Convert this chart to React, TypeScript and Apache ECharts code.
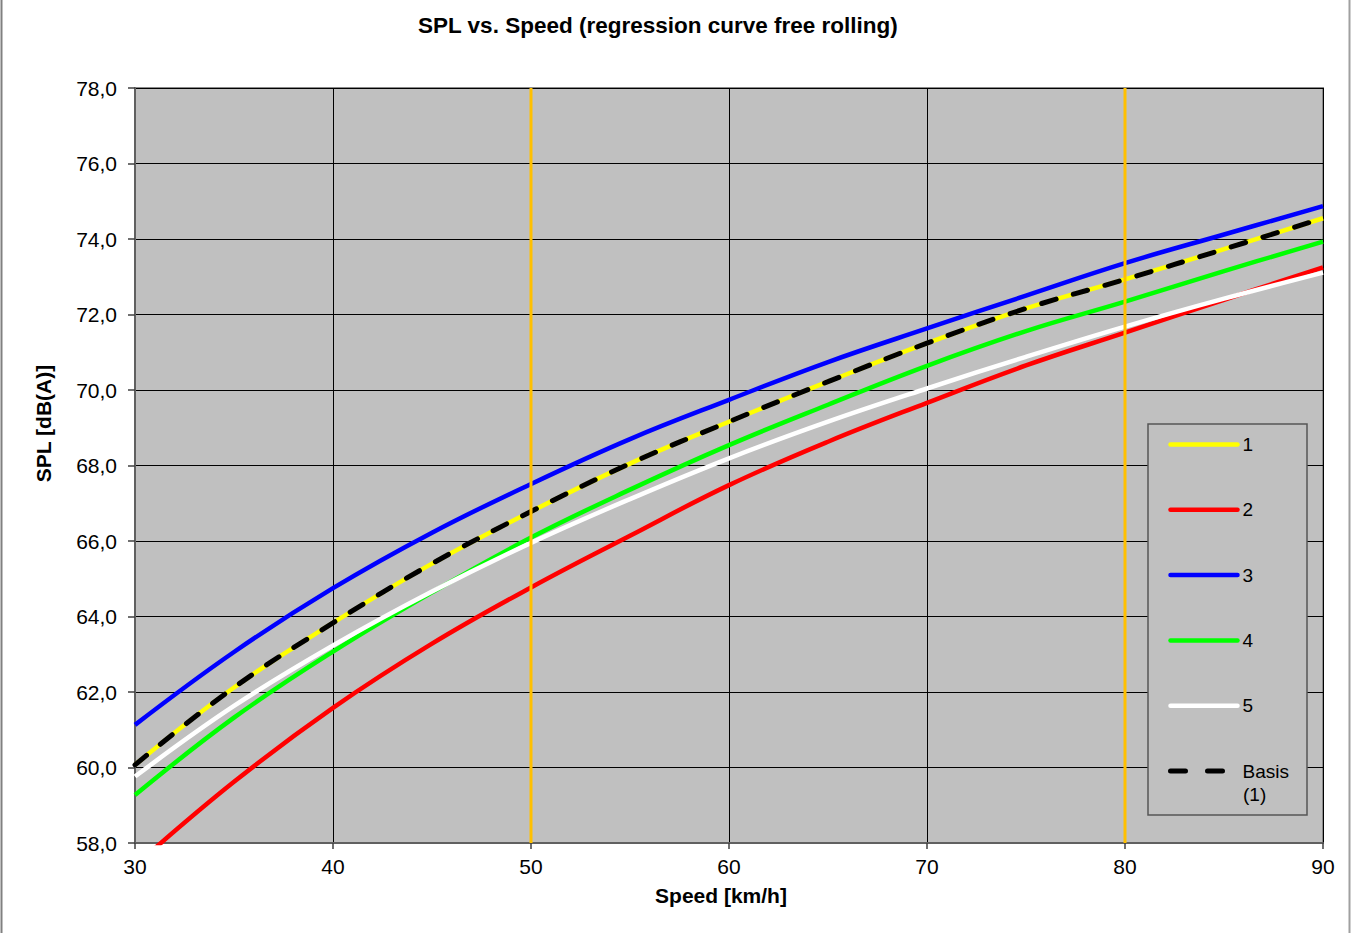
import React, { useEffect, useRef } from "react";
import * as echarts from "echarts";

const speeds = [30, 35, 40, 45, 50, 55, 60, 65, 70, 75, 80, 85, 90];
const s1 = [60.07, 62.12, 63.83, 65.4, 66.78, 68.05, 69.16, 70.22, 71.24, 72.16, 72.93, 73.73, 74.55];
const s2 = [57.4, 59.62, 61.58, 63.28, 64.77, 66.14, 67.48, 68.63, 69.66, 70.65, 71.52, 72.39, 73.25];
const s3 = [61.13, 63.06, 64.75, 66.22, 67.51, 68.7, 69.74, 70.74, 71.63, 72.5, 73.36, 74.12, 74.87];
const s4 = [59.27, 61.32, 63.07, 64.64, 66.09, 67.36, 68.54, 69.61, 70.64, 71.56, 72.34, 73.15, 73.93];
const s5 = [59.76, 61.63, 63.23, 64.66, 65.95, 67.11, 68.19, 69.16, 70.04, 70.88, 71.68, 72.42, 73.11];
const basis = [60.07, 62.12, 63.83, 65.4, 66.78, 68.05, 69.16, 70.22, 71.24, 72.16, 72.93, 73.73, 74.55];
const markerSpeeds = [50, 80];
const seriesNames = ["1", "2", "3", "4", "5", "Basis (1)"];
const FONT = "'Liberation Sans', Arial, sans-serif";

export default function App() {
  const ref = useRef<HTMLDivElement>(null);
  useEffect(() => {
    if (!ref.current) return;
    const chart = echarts.init(ref.current, null, { renderer: "svg" });
    const pts = (arr: number[]) => speeds.map((v, i) => [v, arr[i]]);
    const mk = (name: string, arr: number[], color: string, extra: any = {}) => ({
      name,
      type: "line",
      data: pts(arr),
      smooth: 0.4,
      symbol: "none",
      legendIcon: "none",
      clip: true,
      lineStyle: { color, width: 4.5, ...extra },
      itemStyle: { color },
      z: 3,
    });
    const series: any[] = [
      mk("1", s1, "#FFFF00"),
      mk("2", s2, "#FF0000"),
      mk("3", s3, "#0000FF"),
      mk("4", s4, "#00FF00"),
      mk("5", s5, "#FFFFFF"),
      mk("Basis (1)", basis, "#000000", { type: [15, 18], cap: "round", width: 5 }),
    ];
    markerSpeeds.forEach((m, i) => {
      series.push({
        name: "marker" + i,
        type: "line",
        data: [[m, 58], [m, 78]],
        symbol: "none",
        lineStyle: { color: "#FFC000", width: 3 },
        z: 5,
        silent: true,
      });
    });
    chart.setOption({
      animation: false,
      backgroundColor: "#FFFFFF",
      title: {
        text: "SPL vs. Speed (regression curve free rolling)",
        left: 418,
        top: 14,
        padding: 0,
        textStyle: { fontFamily: FONT, fontSize: 22.5, fontWeight: "bold", color: "#000" },
      },
      grid: {
        left: 135,
        right: 28,
        top: 88,
        bottom: 90,
        show: true,
        backgroundColor: "#C0C0C0",
        borderColor: "#8A8A8A",
        borderWidth: 2,
      },
      legend: {
        orient: "vertical",
        left: 1168,
        top: 435,
        itemWidth: 67,
        itemHeight: 20,
        itemGap: 46.3,
        padding: 0,
        data: seriesNames.map((n) =>
          n === "Basis (1)"
            ? { name: n, lineStyle: { type: [15, 22], cap: "round", width: 5 } }
            : { name: n }
        ),
        itemStyle: { opacity: 0 },
        lineStyle: { width: 4.5, cap: "round" },
        formatter: (n: string) => (n === "Basis (1)" ? "Basis" : n),
        textStyle: { fontFamily: FONT, fontSize: 19, color: "#000" },
        selectedMode: false,
        z: 10,
      },
      xAxis: {
        type: "value",
        min: 30,
        max: 90,
        interval: 10,
        name: "Speed [km/h]",
        nameLocation: "middle",
        nameGap: 42,
        nameTextStyle: {
          fontFamily: FONT,
          fontSize: 21,
          fontWeight: "bold",
          color: "#000",
          padding: [0, 16, 0, 0],
        },
        axisLine: { show: true, lineStyle: { color: "#606060", width: 2 } },
        axisTick: { show: true, inside: false, length: 6, lineStyle: { color: "#404040", width: 1.5 } },
        axisLabel: { margin: 13, fontFamily: FONT, fontSize: 21, color: "#000" },
        splitLine: { show: true, lineStyle: { color: "#000", width: 1 } },
      },
      yAxis: {
        type: "value",
        min: 58,
        max: 78,
        interval: 2,
        name: "SPL [dB(A)]",
        nameLocation: "middle",
        nameGap: 81,
        nameTextStyle: {
          fontFamily: FONT,
          fontSize: 21,
          fontWeight: "bold",
          color: "#000",
          padding: [0, 0, 0, 84],
        },
        axisLine: { show: true, lineStyle: { color: "#606060", width: 2 } },
        axisTick: { show: true, inside: false, length: 7, lineStyle: { color: "#404040", width: 1.5 } },
        axisLabel: {
          margin: 18,
          fontFamily: FONT,
          fontSize: 21,
          color: "#000",
          formatter: (v: number) => v.toFixed(1).replace(".", ","),
        },
        splitLine: { show: true, lineStyle: { color: "#000", width: 1 } },
      },
      graphic: [
        {
          type: "rect",
          shape: { x: 1148, y: 424, width: 159, height: 391 },
          style: { fill: "#C0C0C0", stroke: "#555555", lineWidth: 1.5 },
          z: 6,
          silent: true,
        },
        {
          type: "text",
          x: 1243,
          y: 794,
          style: {
            text: "(1)",
            fontFamily: FONT,
            fontSize: 19,
            fill: "#000",
            verticalAlign: "middle",
          },
          z: 12,
        },
        {
          type: "line",
          shape: { x1: 1.5, y1: 0, x2: 1.5, y2: 933 },
          style: { stroke: "#808080", lineWidth: 2 },
          z: 6,
        },
        {
          type: "line",
          shape: { x1: 1349.5, y1: 0, x2: 1349.5, y2: 933 },
          style: { stroke: "#A0A0A0", lineWidth: 2 },
          z: 6,
        },
      ],
      series,
    });
    return () => chart.dispose();
  }, []);
  return (
    <div
      ref={ref}
      style={{ position: "absolute", left: 0, top: 0, width: 1351, height: 933 }}
    />
  );
}
